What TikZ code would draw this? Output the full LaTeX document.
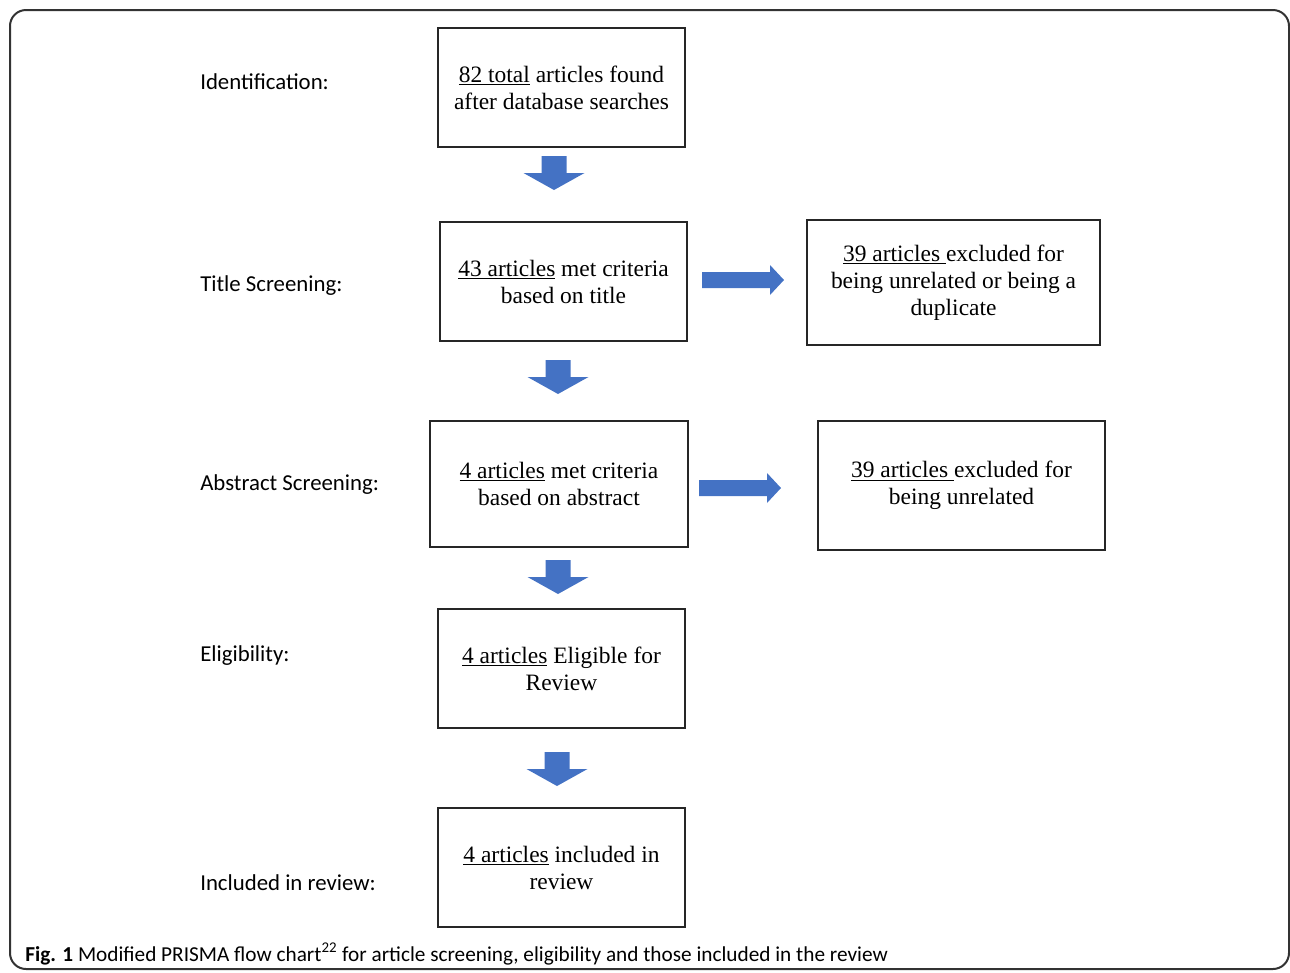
\documentclass[tikz,border=0pt]{standalone}
\usepackage{fontspec}
\setmainfont{Liberation Serif}
\newfontfamily\calibri{Carlito}
\definecolor{arrowblue}{HTML}{4472C4}
\definecolor{framegray}{HTML}{333333}
\tikzset{
  flowbox/.style={draw=black!85, line width=1.3pt, align=center, inner sep=0pt,
    font=\fontsize{17.6}{20.25}\selectfont},
  stagelabel/.style={anchor=base west, inner sep=0pt, font=\calibri\fontsize{17.1}{20}\selectfont},
  downarr/.pic={\fill[arrowblue] (-12.5,0) -- (12.5,0) -- (12.5,17) -- (30.5,17) -- (0,34) -- (-30.5,17) -- (-12.5,17) -- cycle;},
  rightarr/.pic={\fill[arrowblue] (0,-8) -- (68,-8) -- (68,-15) -- (82,0) -- (68,15) -- (68,8) -- (0,8) -- cycle;}
}
\begin{document}
\begin{tikzpicture}[x=0.75pt, y=-0.75pt]
\useasboundingbox (0,0) rectangle (1290,972);
\draw[framegray, line width=1.5pt, rounded corners=12pt] (10,10) rectangle (1289,969);

% boxes
\node[flowbox, minimum width=247*0.75pt, minimum height=119*0.75pt] (b1) at (561.5,87.5)
  {\underline{82 total} articles found\\after database searches};
\node[flowbox, minimum width=247*0.75pt, minimum height=119*0.75pt] (b2) at (563.5,281.5)
  {\underline{43 articles} met criteria\\based on title};
\node[flowbox, minimum width=293*0.75pt, minimum height=125*0.75pt] (b3) at (953.5,282.5)
  {\underline{39 articles }excluded for\\being unrelated or being a\\duplicate};
\node[flowbox, minimum width=258*0.75pt, minimum height=126*0.75pt] (b4) at (559,484)
  {\underline{4 articles} met criteria\\based on abstract};
\node[flowbox, minimum width=287*0.75pt, minimum height=129*0.75pt] (b5) at (961.5,485.5)
  {\underline{39 articles }excluded for\\being unrelated};
\node[flowbox, minimum width=247*0.75pt, minimum height=119*0.75pt] (b6) at (561.5,668.5)
  {\underline{4 articles} Eligible for\\Review};
\node[flowbox, minimum width=247*0.75pt, minimum height=119*0.75pt] (b7) at (561.5,867.5)
  {\underline{4 articles} included in\\review};

% stage labels
\node[stagelabel] (l1) at (200,89) {Identification:};
\node[stagelabel] (l2) at (200,291) {Title Screening:};
\node[stagelabel] (l3) at (200,490) {Abstract Screening:};
\node[stagelabel] (l4) at (200,661) {Eligibility:};
\node[stagelabel] (l5) at (200,890) {Included in review:};

% block arrows
\pic at (554,156) {downarr};
\pic at (558,360) {downarr};
\pic at (558,560) {downarr};
\pic at (557,752) {downarr};
\pic at (702,280) {rightarr};
\pic at (699,488) {rightarr};

% caption
\node[anchor=base west, inner sep=0pt, font=\calibri\fontsize{15.95}{18}\selectfont] (cap) at (25,961)
  {\textbf{Fig. 1} Modified PRISMA flow chart\textsuperscript{22} for article screening, eligibility and those included in the review};
\end{tikzpicture}
\end{document}
